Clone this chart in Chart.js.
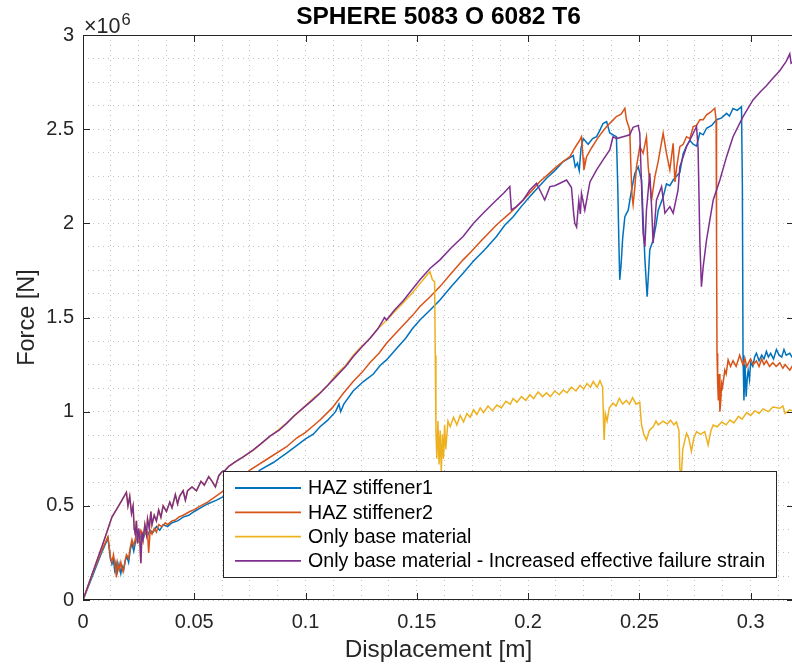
<!DOCTYPE html>
<html><head><meta charset="utf-8">
<script src="https://cdn.jsdelivr.net/npm/chart.js@4.4.0/dist/chart.umd.min.js"></script>
<style>html,body{margin:0;padding:0;overflow:hidden;background:#fff}#wrap{width:800px;height:668px}</style>
</head><body><div id="wrap"><canvas id="c" width="800" height="668"></canvas></div>
<script>
const chartTitle = 'SPHERE 5083 O 6082 T6';
const xAxisLabel = 'Displacement [m]';
const yAxisLabel = 'Force [N]';
const seriesNames = ['HAZ stiffener1', 'HAZ stiffener2', 'Only base material', 'Only base material - Increased effective failure strain'];
const seriesColors = ['#0072BD', '#D95319', '#EDB120', '#7E2F8E'];
const xMajorTicks = [0, 0.05, 0.1, 0.15, 0.2, 0.25, 0.3];
const yMajorTicks = [0, 0.5, 1, 1.5, 2, 2.5, 3];   // in units of 10^6 N
const forceExponent = 6;
const xLimits = [0, 0.3195];
const yLimits = [0, 3];

// [displacement m, force ×10^6 N]
const haz1 = [[0,0],[0.004,0.12],[0.008,0.24],[0.0105,0.31],[0.0112,0.33],[0.0118,0.27],[0.0123,0.22],[0.013,0.19],[0.0137,0.21],[0.0142,0.16],[0.0148,0.2],[0.0155,0.15],[0.0162,0.19],[0.017,0.14],[0.0176,0.18],[0.0183,0.16],[0.019,0.21],[0.0198,0.23],[0.0205,0.2],[0.0213,0.27],[0.022,0.3],[0.0228,0.26],[0.0236,0.31],[0.0245,0.34],[0.0253,0.31],[0.0262,0.35],[0.0272,0.33],[0.028,0.36],[0.029,0.34],[0.03,0.37],[0.0315,0.36],[0.033,0.39],[0.0345,0.37],[0.036,0.4],[0.038,0.39],[0.04,0.41],[0.0425,0.42],[0.045,0.44],[0.0475,0.45],[0.05,0.47],[0.053,0.49],[0.056,0.51],[0.06,0.53],[0.065,0.56],[0.07,0.6],[0.075,0.64],[0.0795,0.69],[0.0855,0.73],[0.0915,0.78],[0.096,0.82],[0.1,0.855],[0.1035,0.88],[0.1065,0.92],[0.11,0.955],[0.1135,1.0],[0.115,1.04],[0.1158,1.0],[0.1172,1.04],[0.1214,1.11],[0.126,1.16],[0.1305,1.2],[0.1335,1.245],[0.1364,1.275],[0.1405,1.33],[0.145,1.39],[0.148,1.44],[0.1514,1.487],[0.156,1.54],[0.1604,1.593],[0.1655,1.665],[0.1708,1.735],[0.1755,1.8],[0.1805,1.86],[0.1858,1.93],[0.1895,1.99],[0.1933,2.035],[0.197,2.09],[0.2008,2.142],[0.2045,2.19],[0.2083,2.239],[0.212,2.28],[0.2158,2.328],[0.219,2.35],[0.2203,2.36],[0.2212,2.3],[0.2222,2.32],[0.223,2.28],[0.2238,2.4],[0.2248,2.45],[0.227,2.42],[0.229,2.45],[0.2308,2.46],[0.2325,2.5],[0.2337,2.53],[0.2353,2.54],[0.2367,2.48],[0.2382,2.47],[0.2397,2.46],[0.2403,2.2],[0.2408,1.9],[0.2412,1.7],[0.2418,1.78],[0.2425,1.92],[0.2435,2.035],[0.245,2.07],[0.2465,2.177],[0.248,2.266],[0.2495,2.3],[0.251,2.23],[0.2518,2.0],[0.2525,1.81],[0.2535,1.61],[0.2542,1.75],[0.2547,1.86],[0.2562,1.91],[0.2575,1.99],[0.2585,2.07],[0.2607,2.14],[0.2622,2.21],[0.2637,2.2],[0.2652,2.23],[0.2667,2.25],[0.2682,2.27],[0.2697,2.37],[0.2712,2.41],[0.2727,2.44],[0.2742,2.42],[0.2757,2.41],[0.2772,2.48],[0.2787,2.47],[0.2802,2.505],[0.2825,2.52],[0.2847,2.55],[0.287,2.56],[0.2892,2.584],[0.2905,2.57],[0.2921,2.61],[0.294,2.6],[0.2959,2.62],[0.2963,2.2],[0.2966,1.3],[0.297,1.06],[0.2975,1.25],[0.298,1.08],[0.2985,1.18],[0.2989,1.22],[0.2995,1.17],[0.3,1.26],[0.301,1.24],[0.3018,1.29],[0.3026,1.31],[0.3038,1.27],[0.305,1.3],[0.306,1.28],[0.3071,1.32],[0.308,1.29],[0.309,1.31],[0.3103,1.28],[0.3116,1.33],[0.3128,1.3],[0.314,1.29],[0.315,1.33],[0.316,1.3],[0.3176,1.31],[0.3186,1.29],[0.3195,1.28]];

const haz2 = [[0,0],[0.004,0.13],[0.008,0.25],[0.0112,0.336],[0.0118,0.28],[0.0123,0.23],[0.013,0.2],[0.0137,0.24],[0.0145,0.177],[0.015,0.12],[0.0155,0.2],[0.0163,0.16],[0.017,0.2],[0.0175,0.17],[0.018,0.15],[0.0188,0.2],[0.0195,0.24],[0.0205,0.22],[0.0213,0.283],[0.022,0.32],[0.0228,0.29],[0.0238,0.34],[0.0245,0.36],[0.025,0.32],[0.026,0.37],[0.027,0.35],[0.0282,0.38],[0.029,0.36],[0.0295,0.25],[0.0302,0.37],[0.031,0.35],[0.032,0.38],[0.033,0.36],[0.034,0.4],[0.0355,0.39],[0.037,0.41],[0.038,0.4],[0.04,0.42],[0.0415,0.425],[0.043,0.44],[0.045,0.45],[0.048,0.47],[0.05,0.48],[0.052,0.495],[0.056,0.52],[0.0617,0.567],[0.068,0.62],[0.075,0.69],[0.083,0.75],[0.0915,0.814],[0.096,0.86],[0.1,0.89],[0.1035,0.925],[0.1065,0.956],[0.112,1.02],[0.117,1.098],[0.1214,1.16],[0.1255,1.21],[0.1289,1.26],[0.133,1.31],[0.1364,1.363],[0.14,1.41],[0.144,1.46],[0.148,1.51],[0.1514,1.558],[0.156,1.61],[0.1604,1.664],[0.1655,1.735],[0.1708,1.806],[0.1745,1.85],[0.1783,1.9],[0.182,1.945],[0.1858,1.991],[0.1918,2.054],[0.1978,2.124],[0.2015,2.17],[0.2053,2.222],[0.209,2.26],[0.2128,2.301],[0.216,2.33],[0.2188,2.354],[0.221,2.4],[0.2233,2.443],[0.224,2.46],[0.2247,2.35],[0.2251,2.284],[0.2263,2.354],[0.2285,2.4],[0.2308,2.443],[0.233,2.48],[0.2353,2.514],[0.2375,2.54],[0.2397,2.567],[0.2418,2.58],[0.2435,2.611],[0.2442,2.55],[0.2457,2.496],[0.2462,2.3],[0.2467,2.15],[0.2472,2.1],[0.248,2.195],[0.2487,2.3],[0.2502,2.407],[0.2517,2.372],[0.2532,2.46],[0.254,2.3],[0.2548,2.2],[0.2555,2.124],[0.257,2.248],[0.2585,2.33],[0.2607,2.478],[0.2622,2.372],[0.2637,2.284],[0.2652,2.425],[0.266,2.22],[0.2668,2.3],[0.2682,2.407],[0.2697,2.42],[0.2712,2.46],[0.2727,2.45],[0.2742,2.514],[0.2757,2.52],[0.2772,2.55],[0.2787,2.55],[0.2802,2.576],[0.282,2.59],[0.2839,2.611],[0.2845,2.55],[0.2847,1.9],[0.2849,1.31],[0.2852,1.15],[0.2855,1.06],[0.2858,1.2],[0.2862,1.0],[0.2866,1.06],[0.287,1.15],[0.2874,1.13],[0.2884,1.221],[0.289,1.2],[0.2899,1.275],[0.291,1.24],[0.2921,1.27],[0.2935,1.24],[0.2951,1.3],[0.2965,1.25],[0.2975,1.28],[0.2982,1.24],[0.3,1.28],[0.3012,1.25],[0.3026,1.27],[0.3038,1.24],[0.305,1.28],[0.306,1.25],[0.3071,1.27],[0.3085,1.24],[0.31,1.26],[0.3115,1.24],[0.3131,1.26],[0.3145,1.23],[0.3155,1.25],[0.3176,1.22],[0.3186,1.24],[0.3195,1.21]];

const baseOnly = [[0,0],[0.003,0.1],[0.006,0.2],[0.009,0.3],[0.011,0.37],[0.013,0.44],[0.015,0.48],[0.017,0.52],[0.0195,0.572],[0.0202,0.5],[0.021,0.55],[0.0218,0.46],[0.0225,0.5],[0.023,0.38],[0.0235,0.35],[0.024,0.42],[0.0245,0.3],[0.025,0.38],[0.0255,0.33],[0.026,0.195],[0.0265,0.36],[0.027,0.32],[0.0278,0.4],[0.0285,0.35],[0.029,0.43],[0.0298,0.38],[0.0305,0.47],[0.031,0.4],[0.032,0.45],[0.033,0.42],[0.034,0.478],[0.035,0.44],[0.036,0.5],[0.0375,0.47],[0.039,0.52],[0.04,0.49],[0.0415,0.56],[0.0425,0.51],[0.0434,0.55],[0.045,0.58],[0.046,0.53],[0.047,0.58],[0.049,0.6],[0.051,0.58],[0.053,0.63],[0.0545,0.61],[0.0565,0.655],[0.058,0.63],[0.0595,0.6],[0.061,0.66],[0.0624,0.68],[0.064,0.69],[0.0655,0.71],[0.0684,0.734],[0.0765,0.795],[0.084,0.868],[0.0915,0.94],[0.099,1.02],[0.103,1.065],[0.1065,1.1],[0.11,1.14],[0.114,1.2],[0.118,1.245],[0.1214,1.3],[0.125,1.345],[0.129,1.39],[0.1325,1.44],[0.136,1.48],[0.14,1.53],[0.144,1.58],[0.148,1.63],[0.1514,1.68],[0.1535,1.71],[0.1559,1.744],[0.157,1.7],[0.158,1.69],[0.1583,1.3],[0.1586,0.9],[0.159,0.75],[0.1595,0.95],[0.16,0.72],[0.1605,0.9],[0.161,0.68],[0.1615,0.88],[0.162,0.75],[0.1625,0.93],[0.163,0.8],[0.164,0.95],[0.165,0.92],[0.1665,0.97],[0.168,0.93],[0.1695,0.98],[0.171,0.945],[0.1725,0.99],[0.174,0.97],[0.1755,1.01],[0.177,0.985],[0.1785,1.02],[0.18,0.995],[0.182,1.03],[0.184,1.005],[0.186,1.035],[0.188,1.02],[0.19,1.055],[0.192,1.04],[0.1933,1.07],[0.195,1.05],[0.197,1.08],[0.199,1.06],[0.2008,1.09],[0.2025,1.07],[0.2045,1.105],[0.2065,1.08],[0.2083,1.1],[0.21,1.08],[0.212,1.11],[0.214,1.09],[0.2158,1.115],[0.2175,1.1],[0.2195,1.13],[0.2215,1.11],[0.2233,1.14],[0.225,1.12],[0.2265,1.15],[0.228,1.13],[0.2293,1.16],[0.231,1.13],[0.2323,1.165],[0.2335,1.13],[0.2339,0.95],[0.2342,0.85],[0.2347,0.99],[0.2355,0.95],[0.2365,1.02],[0.2382,1.045],[0.2395,1.03],[0.241,1.07],[0.2425,1.04],[0.2442,1.06],[0.2455,1.04],[0.247,1.075],[0.2485,1.04],[0.2502,1.05],[0.2507,0.97],[0.251,0.93],[0.252,0.88],[0.2532,0.85],[0.2545,0.9],[0.2562,0.92],[0.2575,0.95],[0.2585,0.93],[0.2607,0.95],[0.2625,0.935],[0.264,0.955],[0.2655,0.93],[0.2667,0.945],[0.2678,0.9],[0.2682,0.7],[0.2688,0.64],[0.2695,0.8],[0.2712,0.885],[0.2722,0.86],[0.2734,0.79],[0.2745,0.86],[0.2757,0.894],[0.2775,0.88],[0.2794,0.894],[0.2809,0.823],[0.2822,0.9],[0.2832,0.929],[0.285,0.92],[0.287,0.945],[0.289,0.93],[0.2907,0.955],[0.2925,0.94],[0.2945,0.975],[0.2962,0.96],[0.2982,0.995],[0.3,0.98],[0.302,1.005],[0.3038,0.99],[0.3056,1.015],[0.308,1.0],[0.31,1.025],[0.3131,1.018],[0.3145,1.03],[0.3155,0.99],[0.3175,1.01],[0.3195,1.0]];

const baseIncreased = [[0,0],[0.003,0.1],[0.006,0.2],[0.009,0.3],[0.011,0.37],[0.013,0.44],[0.015,0.48],[0.017,0.52],[0.0195,0.572],[0.0202,0.5],[0.021,0.55],[0.0218,0.46],[0.0225,0.5],[0.023,0.38],[0.0235,0.35],[0.024,0.42],[0.0245,0.3],[0.025,0.38],[0.0255,0.33],[0.026,0.195],[0.0265,0.36],[0.027,0.32],[0.0278,0.4],[0.0285,0.35],[0.029,0.43],[0.0298,0.38],[0.0305,0.47],[0.031,0.4],[0.032,0.45],[0.033,0.42],[0.034,0.478],[0.035,0.44],[0.036,0.5],[0.0375,0.47],[0.039,0.52],[0.04,0.49],[0.0415,0.56],[0.0425,0.51],[0.0434,0.55],[0.045,0.58],[0.046,0.53],[0.047,0.58],[0.049,0.6],[0.051,0.58],[0.053,0.63],[0.0545,0.61],[0.0565,0.655],[0.058,0.63],[0.0595,0.6],[0.061,0.66],[0.0624,0.68],[0.064,0.69],[0.0655,0.71],[0.0684,0.734],[0.072,0.76],[0.0765,0.797],[0.08,0.83],[0.084,0.87],[0.088,0.9],[0.0915,0.938],[0.095,0.98],[0.099,1.02],[0.103,1.06],[0.1065,1.098],[0.11,1.14],[0.114,1.19],[0.118,1.24],[0.1214,1.292],[0.125,1.34],[0.129,1.39],[0.1325,1.44],[0.1355,1.5],[0.1364,1.487],[0.14,1.54],[0.144,1.59],[0.148,1.65],[0.1514,1.7],[0.1559,1.76],[0.1604,1.806],[0.1655,1.87],[0.1708,1.93],[0.1755,2.0],[0.1798,2.054],[0.1858,2.124],[0.189,2.16],[0.1918,2.195],[0.1925,2.071],[0.1948,2.089],[0.1978,2.124],[0.2008,2.177],[0.2038,2.213],[0.2053,2.177],[0.2075,2.124],[0.2098,2.195],[0.212,2.2],[0.2143,2.213],[0.2173,2.23],[0.2195,2.19],[0.2205,2.05],[0.221,2.0],[0.2218,1.98],[0.2228,2.12],[0.2235,2.05],[0.224,2.16],[0.2255,2.07],[0.2278,2.22],[0.2308,2.284],[0.2337,2.337],[0.2367,2.39],[0.2382,2.46],[0.2397,2.45],[0.2427,2.46],[0.2457,2.47],[0.2472,2.51],[0.2495,2.52],[0.2502,2.478],[0.251,2.2],[0.2517,1.947],[0.2525,1.876],[0.2532,2.071],[0.2547,2.266],[0.2555,2.089],[0.2562,1.894],[0.2577,2.124],[0.26,2.195],[0.2615,2.054],[0.2637,2.089],[0.2652,2.054],[0.2674,2.177],[0.2682,2.3],[0.2712,2.407],[0.2742,2.478],[0.2757,2.514],[0.2764,2.4],[0.2772,1.9],[0.2779,1.664],[0.2787,1.77],[0.2802,1.912],[0.2832,2.124],[0.2862,2.23],[0.2892,2.354],[0.2921,2.46],[0.2966,2.567],[0.3011,2.655],[0.3045,2.7],[0.3071,2.73],[0.31,2.77],[0.3131,2.81],[0.316,2.86],[0.3176,2.9],[0.3182,2.85],[0.3195,2.86]];

const seriesData = [haz1, haz2, baseOnly, baseIncreased];

const FONT = '"Liberation Sans", Arial, Helvetica, sans-serif';
const AX = '#262626';

function withMinor(majors, max) {
  const out = [];
  const step = (majors[1] - majors[0]) / 4;
  for (let i = 0; i < majors.length; i++) {
    out.push(majors[i]);
    for (let k = 1; k < 4; k++) {
      const v = majors[i] + k * step;
      if (v <= max + 1e-12) out.push(v);
    }
  }
  return out.filter(v => v <= max + 1e-12);
}
function majorLabel(v, majors) {
  const m = majors.find(t => Math.abs(t - v) < 1e-9);
  return m === undefined ? '' : String(m);
}

const datasets = seriesData.map((s, i) => ({
  label: seriesNames[i],
  data: s.map(p => ({ x: p[0], y: p[1] })),
  borderColor: seriesColors[i],
  backgroundColor: seriesColors[i],
  borderWidth: 1.5,
  pointRadius: 0,
  tension: 0,
  fill: false,
  order: seriesData.length - i
}));

const decor = {
  id: 'decor',
  afterDatasetsDraw(chart) {
    const { ctx, chartArea: a, scales: { x, y } } = chart;
    ctx.save();
    // axes box
    ctx.strokeStyle = AX; ctx.lineWidth = 1;
    ctx.strokeRect(a.left + 0.5, a.top + 0.5, a.right - a.left - 1, a.bottom - a.top - 1);
    ctx.beginPath();
    xMajorTicks.forEach(v => {
      const px = Math.round(x.getPixelForValue(v)) + 0.5;
      ctx.moveTo(px, a.bottom); ctx.lineTo(px, a.bottom - 7);
      ctx.moveTo(px, a.top); ctx.lineTo(px, a.top + 7);
    });
    yMajorTicks.forEach(v => {
      const py = Math.round(y.getPixelForValue(v)) + 0.5;
      ctx.moveTo(a.left, py); ctx.lineTo(a.left + 7, py);
      ctx.moveTo(a.right, py); ctx.lineTo(a.right - 7, py);
    });
    ctx.stroke();
    // title
    ctx.fillStyle = '#000'; ctx.font = 'bold 24.5px ' + FONT;
    ctx.textAlign = 'center'; ctx.textBaseline = 'alphabetic';
    ctx.fillText(chartTitle, (a.left + a.right) / 2, 23.5);
    // exponent
    ctx.fillStyle = AX; ctx.textAlign = 'left'; ctx.font = '21.5px ' + FONT;
    ctx.fillText('\u00d710', a.left + 1, 32.5);
    const w = ctx.measureText('\u00d710').width;
    ctx.font = '16.5px ' + FONT;
    ctx.fillText(String(forceExponent), a.left + 2 + w, 24.5);
    // legend
    const lx = a.left + 140, ly = a.top + 436, lw = 553, lh = 106;
    ctx.fillStyle = '#fff'; ctx.fillRect(lx, ly, lw, lh);
    ctx.strokeStyle = AX; ctx.lineWidth = 1;
    ctx.strokeRect(lx + 0.5, ly + 0.5, lw, lh);
    ctx.font = '19.6px ' + FONT; ctx.textBaseline = 'middle';
    chart.data.datasets.forEach((ds, i) => {
      const ry = ly + 17 + i * 24.3;
      ctx.strokeStyle = ds.borderColor; ctx.lineWidth = 1.8;
      ctx.beginPath(); ctx.moveTo(lx + 12, ry); ctx.lineTo(lx + 78, ry); ctx.stroke();
      ctx.fillStyle = '#000';
      ctx.fillText(ds.label, lx + 85, ry + 1);
    });
    ctx.restore();
  }
};

const gridCfg = { color: 'rgba(0,0,0,0.24)', lineWidth: 1, drawTicks: false };

new Chart(document.getElementById('c'), {
  type: 'line',
  data: { datasets },
  options: {
    responsive: false,
    animation: false,
    layout: { padding: { top: 35, right: 6, left: 0, bottom: 0 } },
    plugins: { legend: { display: false }, tooltip: { enabled: false }, title: { display: false } },
    scales: {
      x: {
        type: 'linear', min: xLimits[0], max: xLimits[1],
        afterBuildTicks: s => { s.ticks = withMinor(xMajorTicks, xLimits[1]).map(v => ({ value: v })); },
        ticks: { autoSkip: false, maxRotation: 0, padding: 10, color: AX, font: { family: FONT, size: 20 },
                 callback: v => majorLabel(v, xMajorTicks) },
        grid: gridCfg,
        border: { display: false, dash: [1, 4] },
        title: { display: true, text: xAxisLabel, color: AX, font: { family: FONT, size: 24.3 }, padding: { top: 0, bottom: 3 } },
        afterFit: s => { s.height = 68; }
      },
      y: {
        type: 'linear', min: yLimits[0], max: yLimits[1],
        afterBuildTicks: s => { s.ticks = withMinor(yMajorTicks, yLimits[1]).map(v => ({ value: v })); },
        ticks: { autoSkip: false, padding: 9, color: AX, font: { family: FONT, size: 20 },
                 callback: v => majorLabel(v, yMajorTicks) },
        grid: gridCfg,
        border: { display: false, dash: [1, 4] },
        title: { display: true, text: yAxisLabel, color: AX, font: { family: FONT, size: 23.5 }, padding: { top: 13, bottom: 0 } },
        afterFit: s => { s.width = 83; }
      }
    }
  },
  plugins: [decor]
});
</script>
</body></html>
